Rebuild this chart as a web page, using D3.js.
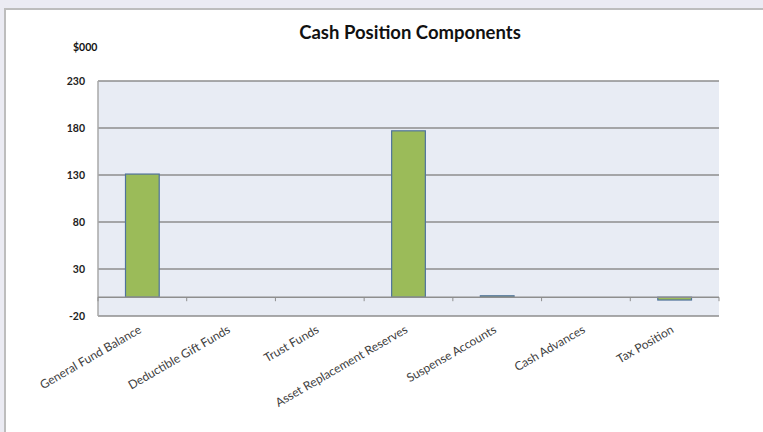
<!DOCTYPE html>
<html>
<head>
    <title>Cash Position Components</title>
    <script src="https://cdnjs.cloudflare.com/ajax/libs/d3/7.8.5/d3.min.js"></script>
    <style>
        body {
            margin: 0;
            background-color: #ebebf3;
            font-family: Lato, "Liberation Sans", sans-serif;
        }

        .frame {
            fill: white;
            stroke: #bdbdbd;
            stroke-width: 2px;
        }

        .plot-bg {
            fill: #e8ecf4;
        }

        .grid line {
            stroke: #8e8e8e;
            stroke-width: 1.5px;
        }

        .bar {
            fill: #9bbb59;
            stroke: #4f739b;
            stroke-width: 1.2px;
        }

        .y-label {
            font-size: 10.5px;
            font-weight: bold;
            fill: #222;
        }

        .x-label {
            font-size: 12px;
            fill: #404040;
        }
    </style>
</head>

<body>
    <div id="chart"></div>

    <script>
        const categories = [
            'General Fund Balance', 'Deductible Gift Funds', 'Trust Funds',
            'Asset Replacement Reserves', 'Suspense Accounts', 'Cash Advances', 'Tax Position'
        ];
        const values = [131, 0, 0, 177, 1.5, 0, -3];
        const yTicks = [-20, 30, 80, 130, 180, 230];

        const width = 763, height = 432;
        const margin = { top: 81, right: 44, bottom: 116, left: 98 };

        const svg = d3.select('#chart').append('svg')
            .attr('width', width)
            .attr('height', height);

        // outer chart frame
        svg.append('rect')
            .attr('class', 'frame')
            .attr('x', 5).attr('y', 9)
            .attr('width', width + 10).attr('height', height + 10);

        const x = d3.scaleBand()
            .domain(categories)
            .range([margin.left, width - margin.right])
            .paddingInner(0.62)
            .paddingOuter(0.31);

        const y = d3.scaleLinear()
            .domain([-20, 230])
            .range([height - margin.bottom, margin.top]);

        svg.append('rect')
            .attr('class', 'plot-bg')
            .attr('x', margin.left).attr('y', margin.top)
            .attr('width', width - margin.right - margin.left)
            .attr('height', y(-20) - y(230));

        // gridlines
        const grid = svg.append('g').attr('class', 'grid');
        grid.selectAll('line')
            .data(yTicks)
            .enter().append('line')
            .attr('x1', margin.left)
            .attr('x2', width - margin.right)
            .attr('y1', d => y(d))
            .attr('y2', d => y(d));

        // left border of plot
        svg.append('line')
            .attr('x1', margin.left).attr('x2', margin.left)
            .attr('y1', y(230)).attr('y2', y(-20))
            .attr('stroke', '#a8a8a8').attr('stroke-width', 1.5);

        // y labels
        svg.selectAll('.y-label')
            .data(yTicks)
            .enter().append('text')
            .attr('class', 'y-label')
            .attr('x', 85)
            .attr('y', d => y(d))
            .attr('dy', '0.35em')
            .attr('text-anchor', 'end')
            .text(d => d);

        // bars
        svg.selectAll('.bar')
            .data(values)
            .enter().append('rect')
            .attr('class', 'bar')
            .attr('x', (d, i) => x(categories[i]))
            .attr('width', x.bandwidth())
            .attr('y', d => y(Math.max(0, d)))
            .attr('height', d => Math.abs(y(d) - y(0)))
            .style('display', d => d === 0 ? 'none' : null);

        // zero axis with tick marks between categories
        const step = x.step();
        const axisG = svg.append('g');
        axisG.append('line')
            .attr('x1', margin.left).attr('x2', width - margin.right)
            .attr('y1', y(0)).attr('y2', y(0))
            .attr('stroke', '#8e8e8e').attr('stroke-width', 1.5);
        axisG.selectAll('.tick')
            .data(d3.range(categories.length + 1))
            .enter().append('line')
            .attr('x1', i => margin.left + i * step)
            .attr('x2', i => margin.left + i * step)
            .attr('y1', y(0)).attr('y2', y(0) + 4)
            .attr('stroke', '#8e8e8e').attr('stroke-width', 1);

        // category labels
        svg.selectAll('.x-label')
            .data(categories)
            .enter().append('text')
            .attr('class', 'x-label')
            .attr('text-anchor', 'end')
            .attr('transform', d => `translate(${x(d) + x.bandwidth() / 2},${y(-20) + 16}) rotate(-30)`)
            .text(d => d);

        svg.append('text')
            .attr('x', 410).attr('y', 39)
            .attr('text-anchor', 'middle')
            .style('font-size', '18.5px')
            .style('font-weight', 'bold')
            .style('fill', '#111')
            .text('Cash Position Components');

        svg.append('text')
            .attr('x', 73).attr('y', 51)
            .style('font-size', '10.5px')
            .style('font-weight', 'bold')
            .style('fill', '#111')
            .text('$000');
    </script>
</body>
</html>
